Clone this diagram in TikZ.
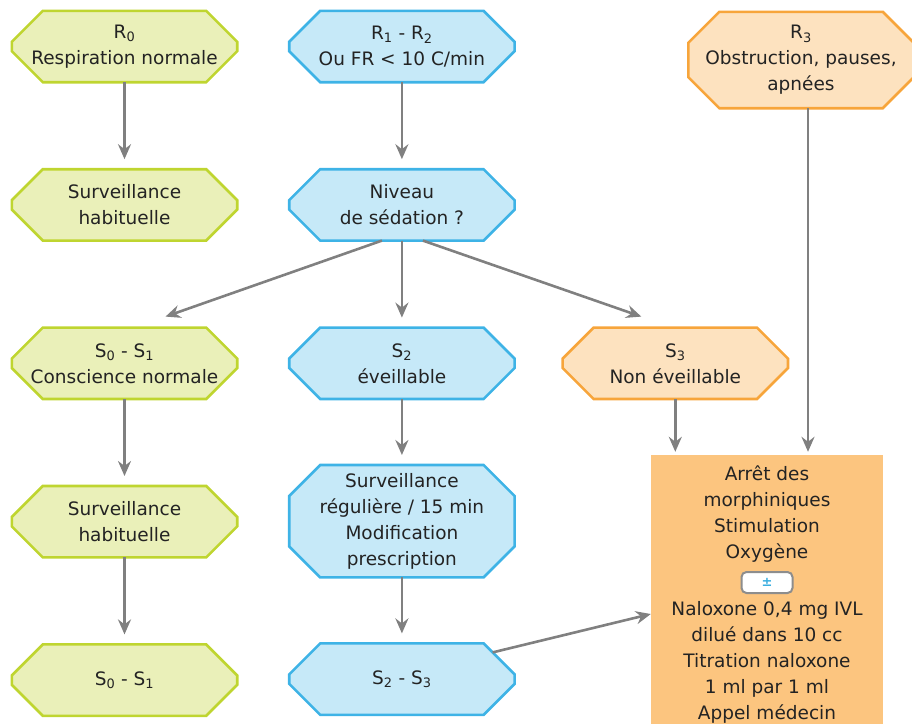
\documentclass[tikz,border=0pt]{standalone}
\usepackage{fontspec}
\setmainfont{DejaVu Sans}
\usepackage{tikz}
\usetikzlibrary{arrows.meta,positioning,calc,backgrounds}
\definecolor{fvert}{HTML}{EAF0B9}
\definecolor{lvert}{HTML}{BFD530}
\definecolor{fbleu}{HTML}{C6E9F8}
\definecolor{lbleu}{HTML}{3EB3E6}
\definecolor{for}{HTML}{FDE2BF}
\definecolor{lor}{HTML}{F7A53B}
\definecolor{actfill}{HTML}{FCC57F}
\definecolor{txtgris}{HTML}{232323}
\definecolor{flgris}{HTML}{808080}
\definecolor{pmbleu}{HTML}{3AAEE0}
\tikzset{
  hexa/.style={rectangle, align=center, minimum width=225pt, minimum height=71pt, inner sep=0pt,
    text=txtgris, font=\fontsize{18.5}{26}\selectfont},
  hexfond/.style={line width=2.6pt, line join=miter},
  actbox/.style={rectangle, fill=actfill, minimum width=232pt, minimum height=318pt, inner sep=0pt},
  acttxt/.style={align=center, inner sep=0pt, text=txtgris, font=\fontsize{18.5}{26}\selectfont},
  pmbox/.style={draw=flgris!90, line width=2pt, fill=white, rounded corners=5pt, minimum width=51pt,
    minimum height=21pt, inner sep=0pt, text=pmbleu, font=\fontsize{13}{13}\selectfont\bfseries},
  fleche/.style={-{Stealth[length=15pt, width=13pt, inset=5pt]}, line width=2.6pt, draw=flgris},
  gap/.style={shorten >=10pt}
}
\begin{document}
\begin{tikzpicture}[x=1pt, y=-1pt, node distance=87pt and 52pt]
  \useasboundingbox (0,0) rectangle (912,723);
  % respiration
  \node[hexa] (r0) at (124.5,46.5) {R\textsubscript{0}\\Respiration normale};
  \node[hexa, right=of r0] (r12) {R\textsubscript{1} - R\textsubscript{2}\\Ou FR < 10 C/min};
  \node[hexa, minimum height=96pt] (r3) at (801,60) {R\textsubscript{3}\\Obstruction, pauses,\\apnées};
  \node[hexa, below=of r0] (sv1) {Surveillance\\habituelle};
  \node[hexa, below=of r12] (niv) {Niveau\\de sédation ?};
  % sedation
  \node[hexa, below=of sv1] (s01) {S\textsubscript{0} - S\textsubscript{1}\\Conscience normale};
  \node[hexa, below=of niv] (s2) {S\textsubscript{2}\\éveillable};
  \node[hexa, right=48pt of s2] (s3) {S\textsubscript{3}\\Non éveillable};
  \node[hexa, below=of s01] (sv2) {Surveillance\\habituelle};
  \node[hexa, below=66pt of s2, minimum height=112pt] (svr) {Surveillance\\régulière / 15 min\\Modification\\prescription};
  \node[hexa, below=of sv2] (s01b) {S\textsubscript{0} - S\textsubscript{1}};
  \node[hexa, below=66pt of svr] (s23) {S\textsubscript{2} - S\textsubscript{3}};
  % hexagones derriere le texte
  \begin{scope}[on background layer]
    \foreach \n/\c in {r0/vert, sv1/vert, s01/vert, sv2/vert, s01b/vert,
                       r12/bleu, niv/bleu, s2/bleu, svr/bleu, s23/bleu, r3/or, s3/or}
      \draw[hexfond, draw=l\c, fill=f\c]
        ($(\n.north west)+(31,0)$) -- ($(\n.north east)+(-31,0)$) -- ($(\n.north east)+(0,31)$)
        -- ($(\n.south east)+(0,-31)$) -- ($(\n.south east)+(-31,0)$) -- ($(\n.south west)+(31,0)$)
        -- ($(\n.south west)+(0,-31)$) -- ($(\n.north west)+(0,31)$) -- cycle;
  \end{scope}
  % conduite a tenir
  \node[actbox] (act) at (767,614) {};
  \node[acttxt] (actA) at (767,514) {Arrêt des\\morphiniques\\Stimulation\\Oxygène};
  \node[pmbox] (pm) at (767,582.5) {±};
  \node[acttxt] (actB) at (767,662) {Naloxone 0,4 mg IVL\\dilué dans 10 cc\\Titration naloxone\\1 ml par 1 ml\\Appel médecin};
  \coordinate (r3b) at ($(r3.south)+(7,0)$);
  \draw[fleche, gap] (r0) -- (sv1);
  \draw[fleche, gap] (r12) -- (niv);
  \draw[fleche] ($(niv.south)+(-20,0)$) -- ($(s01.north)+(41,-11)$);
  \draw[fleche, gap] (niv) -- (s2);
  \draw[fleche] ($(niv.south)+(21,0)$) -- ($(s3.north)+(-34,-11)$);
  \draw[fleche, gap] (s01) -- (sv2);
  \draw[fleche, gap] (sv2) -- (s01b);
  \draw[fleche, gap] (s2) -- (svr);
  \draw[fleche, gap] (svr) -- (s23);
  \draw[fleche, shorten >=3pt] (s3) -- (s3 |- act.north);
  \draw[fleche, shorten >=3pt] (r3b) -- (r3b |- act.north);
  \draw[fleche] ($(s23.north east)+(-22,9)$) -- (act.west);
\end{tikzpicture}
\end{document}
